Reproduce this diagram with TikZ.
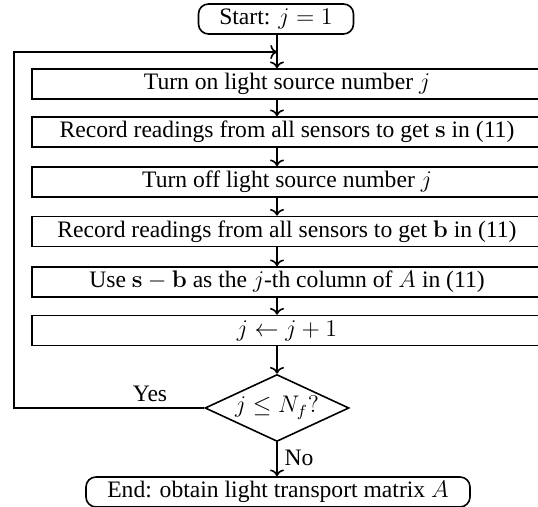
\documentclass[tikz,border=0pt]{standalone}
\usepackage[no-math]{fontspec}
\setmainfont{Liberation Serif}
\usetikzlibrary{arrows.meta,shapes.geometric}
\tikzset{
  stepbox/.style={draw,line width=0.8pt,minimum width=255pt,minimum height=15pt,inner sep=0pt},
  termbox/.style={draw,line width=0.8pt,rounded corners=5pt,minimum height=15pt,inner sep=0pt},
  testbox/.style={draw,diamond,line width=0.8pt,aspect=2.15,minimum width=72pt,minimum height=33.5pt,inner sep=0pt},
  flow/.style={->,line width=0.8pt}
}

\begin{document}
\begin{tikzpicture}[x=0.5pt,y=-0.5pt,font=\fontsize{11.8pt}{14pt}\selectfont]
\useasboundingbox (0,0) rectangle (538,507);
% terminals
\node[termbox,minimum width=77.5pt] (start) at (276,19) {Start: $j=1$};
\node[termbox,minimum width=192pt] (finish) at (278,492) {End: obtain light transport matrix $A$};

% steps of the loop
\node[stepbox] (on)    at (287,84)  {Turn on light source number $j$};
\node[stepbox] (recs)  at (287,132) {Record readings from all sensors to get $\mathbf{s}$ in (11)};
\node[stepbox] (off)   at (287,182) {Turn off light source number $j$};
\node[stepbox] (recb)  at (287,231.5) {Record readings from all sensors to get $\mathbf{b}$ in (11)};
\node[stepbox] (col)   at (287,282) {Use $\mathbf{s}-\mathbf{b}$ as the $j$-th column of $A$ in (11)};
\node[stepbox] (inc)   at (287,330.5) {$j\leftarrow j+1$};
\node[testbox] (test)  at (277,408) {$j\le N_f?$};

\node (yes) at (150,394) {Yes};
\node (no)  at (299,458) {No};

% connectors
\coordinate (merge) at (277,52);
\draw[flow] (start.south -| merge) -- (on.north -| merge);
\draw[flow] (on.south -| merge) -- (recs.north -| merge);
\draw[flow] (recs.south -| merge) -- (off.north -| merge);
\draw[flow] (off.south -| merge) -- (recb.north -| merge);
\draw[flow] (recb.south -| merge) -- (col.north -| merge);
\draw[flow] (col.south -| merge) -- (inc.north -| merge);
\draw[flow] (inc.south -| merge) -- (test.north);
\draw[flow] (test.south) -- (finish.north -| test);
\draw[flow] (test.west) -- ++(-190,0) |- (merge);
\end{tikzpicture}
\end{document}
